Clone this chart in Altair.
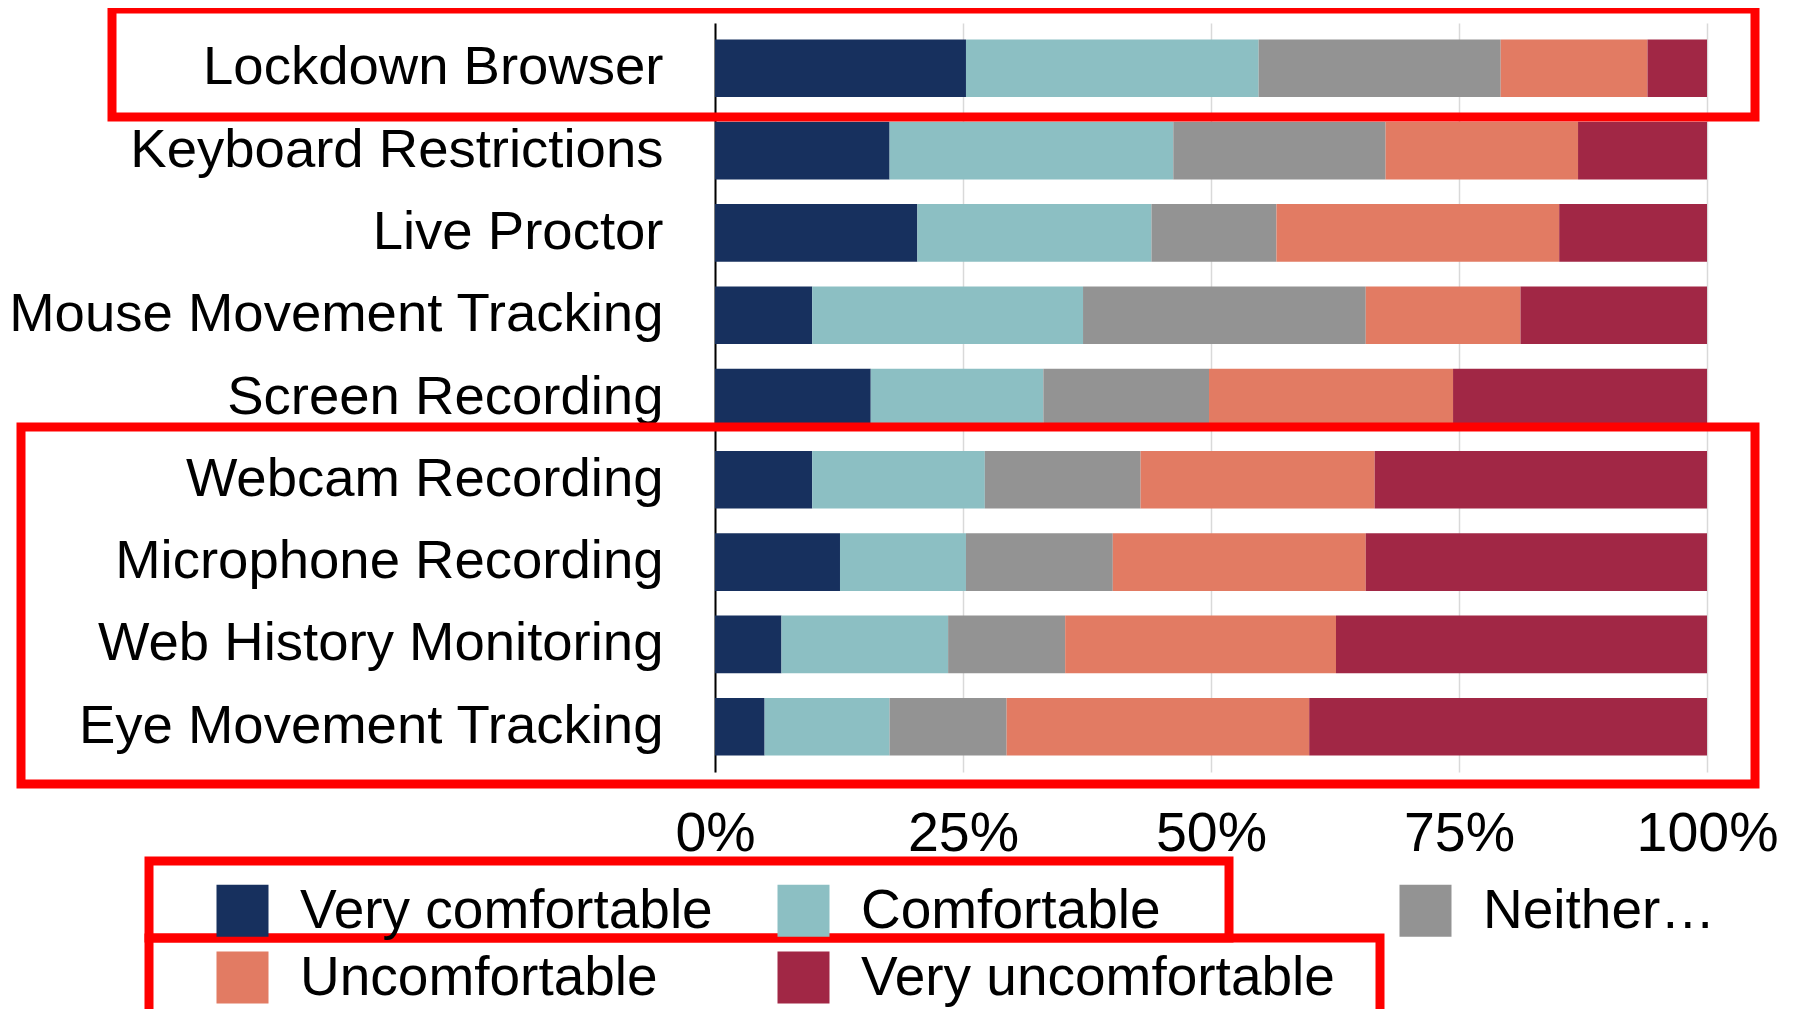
import altair as alt
import pandas as pd

categories = ["Lockdown Browser", "Keyboard Restrictions", "Live Proctor",
              "Mouse Movement Tracking", "Screen Recording", "Webcam Recording",
              "Microphone Recording", "Web History Monitoring", "Eye Movement Tracking"]
levels = ["Very comfortable", "Comfortable", "Neither comfortable nor uncomfortable",
          "Uncomfortable", "Very uncomfortable"]
colors = ["#17305e", "#8cbfc3", "#939393", "#e27b63", "#a12745"]

very_comfortable = [25.3, 17.6, 20.4, 9.8, 15.7, 9.8, 12.6, 6.7, 5.0]
comfortable = [29.5, 28.6, 23.6, 27.3, 17.4, 17.4, 12.7, 16.8, 12.6]
neither = [24.4, 21.4, 12.6, 28.5, 16.7, 15.7, 14.8, 11.8, 11.8]
uncomfortable = [14.8, 19.4, 28.5, 15.6, 24.6, 23.6, 25.5, 27.3, 30.5]
very_uncomfortable = [6.0, 13.0, 14.9, 18.8, 25.6, 33.5, 34.4, 37.4, 40.1]

series = [very_comfortable, comfortable, neither, uncomfortable, very_uncomfortable]
rows = []
for li, (lvl, vals) in enumerate(zip(levels, series)):
    for cat, v in zip(categories, vals):
        rows.append({"method": cat, "level": lvl, "rank": li, "pct": v})
df = pd.DataFrame(rows)

# annotation boxes (red highlight frames), pixel positions relative to plot origin
box_x0 = [-603, -694, -566, -566]
box_x1 = [1040, 1040, 514, 665]
box_y0 = [-14, 404, 838, 915]
box_y1 = [94, 761, 915, 995]
boxes = pd.DataFrame({"x0": box_x0, "x1": box_x1, "y0": box_y0, "y1": box_y1})

FONT = "Liberation Sans"

bars = alt.Chart(df).mark_bar().encode(
    y=alt.Y("method:N", sort=categories, title=None,
            scale=alt.Scale(paddingInner=0.3, paddingOuter=0.2),
            axis=alt.Axis(labelFontSize=54.5, labelFont=FONT, labelColor="black",
                          labelPadding=52, labelLimit=1000, ticks=False,
                          domainColor="black", domainWidth=2, grid=False)),
    x=alt.X("pct:Q", stack="normalize", title=None,
            axis=alt.Axis(values=[0, 0.25, 0.5, 0.75, 1], format=".0%",
                          labelFontSize=55.5, labelFont=FONT, labelColor="black",
                          labelPadding=34, ticks=False, domain=False,
                          grid=True, gridColor="#d9d9d9", gridWidth=1.5,
                          labelFlush=False)),
    color=alt.Color("level:N", scale=alt.Scale(domain=levels, range=colors),
                    legend=alt.Legend(title=None, orient="none", legendX=-500, legendY=860,
                                      direction="horizontal",
                                      columns=3, columnPadding=63, rowPadding=11,
                                      labelFontSize=55, labelFont=FONT, labelColor="black",
                                      labelOffset=30, labelLimit=1000,
                                      symbolType="square", symbolSize=2704,
                                      symbolStrokeWidth=0, symbolOpacity=1, padding=0,
                                      labelExpr="datum.label == 'Neither comfortable nor uncomfortable' ? 'Neither…' : datum.label")),
    order=alt.Order("rank:Q", sort="ascending"),
)

frames = alt.Chart(boxes).mark_rect(fillOpacity=0, stroke="#ff0000", strokeWidth=9).encode(
    x=alt.X("x0:Q", scale=None, axis=None),
    x2="x1:Q",
    y=alt.Y("y0:Q", scale=None, axis=None),
    y2="y1:Q",
)

chart = alt.layer(bars, frames).resolve_scale(x="independent", y="independent").properties(
    width=992, height=749,
    padding={"left": 707, "top": 15, "right": 78, "bottom": 237},
    autosize=alt.AutoSizeParams(type="none"),
).configure_view(stroke=None)

chart.save("out.html", embed_options={"renderer": "svg", "actions": False})
